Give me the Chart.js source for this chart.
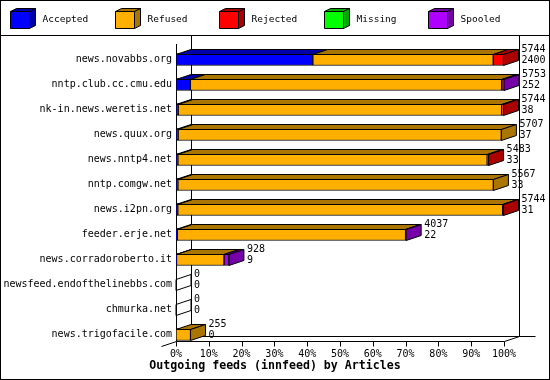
<!DOCTYPE html>
<html><head><meta charset="utf-8">
<script src="https://cdn.jsdelivr.net/npm/chart.js@4/dist/chart.umd.min.js"></script>
<style>html,body{margin:0;padding:0;background:#fff;}#wrap{width:550px;height:380px;position:relative;}</style>
</head><body><div id="wrap"><canvas id="c" width="550" height="380"></canvas></div>
<script>
const categories = ['news.novabbs.org','nntp.club.cc.cmu.edu','nk-in.news.weretis.net','news.quux.org','news.nntp4.net','nntp.comgw.net','news.i2pn.org','feeder.erje.net','news.corradoroberto.it','newsfeed.endofthelinebbs.com','chmurka.net','news.trigofacile.com'];
const offered  = [5744, 5753, 5744, 5707, 5483, 5567, 5744, 4037, 928, 0, 0, 255];
const accepted = [2400, 252, 38, 37, 33, 33, 31, 22, 9, 0, 0, 0];
const refused  = [3164, 5461, 5676, 5670, 5425, 5534, 5698, 4005, 833, 0, 0, 255];
const rejected = [180, 12, 30, 0, 25, 0, 15, 0, 0, 0, 0, 0];
const missing  = [0, 0, 0, 0, 0, 0, 0, 0, 0, 0, 0, 0];
const spooled  = [0, 28, 0, 0, 0, 0, 0, 10, 86, 0, 0, 0];
const seriesNames = ['Accepted','Refused','Rejected','Missing','Spooled'];
const seriesValues = [accepted, refused, rejected, missing, spooled];
const frontColors = ['#0000FF','#FFAF00','#FF0000','#00FF00','#AF00FF'];
const darkColors  = ['#0000AA','#AA7500','#AA0000','#00AA00','#7500AA'];
const titleText = 'Outgoing feeds (innfeed) by Articles';

const MONO = '"DejaVu Sans Mono", "Liberation Mono", monospace';
const maxTotal = Math.max(...offered);
const DX = 15, DY = 5;

const datasets = seriesValues.map((arr, k) => ({
  label: seriesNames[k],
  data: arr.map(v => v / maxTotal * 100),
  backgroundColor: frontColors[k],
  borderColor: '#000',
  borderWidth: 1,
  borderSkipped: false,
  barThickness: 12
}));

function poly(ctx, pts, fill) {
  ctx.beginPath();
  ctx.moveTo(pts[0][0], pts[0][1]);
  for (let i = 1; i < pts.length; i++) ctx.lineTo(pts[i][0], pts[i][1]);
  ctx.closePath();
  if (fill) { ctx.fillStyle = fill; ctx.fill(); }
  ctx.strokeStyle = '#000'; ctx.lineWidth = 1; ctx.stroke();
}
function line(ctx, x1, y1, x2, y2) {
  ctx.beginPath(); ctx.moveTo(x1, y1); ctx.lineTo(x2, y2);
  ctx.strokeStyle = '#000'; ctx.lineWidth = 1; ctx.stroke();
}

const threeD = {
  id: 'threeD',
  beforeDatasetsDraw(chart) {
    const ctx = chart.ctx, a = chart.chartArea, xs = chart.scales.x;
    const L = Math.round(a.left) + 0.5, R = Math.round(a.right) + 0.5;
    const F = Math.round(a.bottom) - 6 + 0.5;
    ctx.save();
    line(ctx, L + DX, 35, L + DX, F - DY);
    line(ctx, R + DX, 35, R + DX, F - DY);
    line(ctx, L + DX, F - DY, R + DX + 16, F - DY);
    line(ctx, L, F, R, F);
    line(ctx, R, F, R + DX, F - DY);
    line(ctx, L - DX, F + DY, L, F);
    line(ctx, L, a.top - 3, L, F);
    xs.ticks.forEach(t => {
      const x = Math.round(xs.getPixelForValue(t.value)) + 0.5;
      line(ctx, x, F, x, F + 5);
    });
    ctx.restore();
  },
  afterDatasetsDraw(chart) {
    const ctx = chart.ctx, xs = chart.scales.x;
    const metas = seriesValues.map((_, k) => chart.getDatasetMeta(k));
    ctx.save();
    for (let i = 0; i < categories.length; i++) {
      const el0 = metas[0].data[i];
      const h = el0.height;
      const t = Math.round(el0.y - h / 2) + 0.5;
      const b = Math.round(el0.y + h / 2) - 0.5;
      let last = -1, endX = xs.getPixelForValue(0);
      for (let k = 0; k < seriesValues.length; k++) {
        if (seriesValues[k][i] > 0) {
          const el = metas[k].data[i];
          const x0 = el.base, x1 = el.x;
          poly(ctx, [[x0, t], [x1, t], [x1 + DX, t - DY], [x0 + DX, t - DY]], darkColors[k]);
          last = k; endX = x1;
        }
      }
      poly(ctx, [[endX, t], [endX + DX, t - DY], [endX + DX, b - DY], [endX, b]], last >= 0 ? darkColors[last] : null);
      ctx.fillStyle = '#000';
      ctx.font = '10px ' + MONO;
      ctx.textAlign = 'left';
      ctx.textBaseline = 'middle';
      const c = el0.y;
      ctx.fillText(String(offered[i]), endX + DX + 3, c - 10);
      ctx.fillText(String(accepted[i]), endX + DX + 3, c + 1);
    }
    ctx.restore();
  },
  afterDraw(chart) {
    const ctx = chart.ctx;
    ctx.save();
    ctx.strokeStyle = '#000'; ctx.lineWidth = 1;
    ctx.strokeRect(0.5, 0.5, 549, 379);
    line(ctx, 0, 35.5, 550, 35.5);
    for (let k = 0; k < seriesNames.length; k++) {
      const x = Math.round(10 + k * 104.5) + 0.5, y = 11.5, w = 19, hh = 17, dx = 6, dy = 3;
      poly(ctx, [[x, y], [x + w, y], [x + w + dx, y - dy], [x + dx, y - dy]], darkColors[k]);
      poly(ctx, [[x + w, y], [x + w + dx, y - dy], [x + w + dx, y + hh - dy], [x + w, y + hh]], darkColors[k]);
      poly(ctx, [[x, y], [x + w, y], [x + w, y + hh], [x, y + hh]], frontColors[k]);
      ctx.fillStyle = '#000';
      ctx.font = '9.5px ' + MONO;
      ctx.textAlign = 'left'; ctx.textBaseline = 'middle';
      ctx.fillText(seriesNames[k], x + 32, 20);
    }
    // axis title, centred on the image like the reference
    ctx.fillStyle = '#000';
    ctx.font = 'bold 11.6px ' + MONO;
    ctx.textAlign = 'center'; ctx.textBaseline = 'middle';
    ctx.fillText(titleText, 275, 366);
    ctx.restore();
  }
};

new Chart(document.getElementById('c'), {
  type: 'bar',
  data: { labels: categories, datasets },
  plugins: [threeD],
  options: {
    responsive: false, animation: false, devicePixelRatio: 1,
    indexAxis: 'y',
    layout: { padding: { top: 47, left: 0, right: 46, bottom: 0 } },
    plugins: { legend: { display: false }, tooltip: { enabled: false } },
    scales: {
      x: {
        stacked: true, min: 0, max: 100,
        ticks: { stepSize: 10, callback: v => v + '%', font: { family: MONO, size: 10 }, color: '#000', padding: 1, maxRotation: 0, autoSkip: false },
        grid: { display: false, drawTicks: false }, border: { display: false },
        afterFit(s) { s.height = 33; }
      },
      y: {
        stacked: true,
        ticks: { font: { family: MONO, size: 10 }, color: '#000', padding: 4, autoSkip: false },
        grid: { display: false, drawTicks: false }, border: { display: false },
        afterFit(s) { s.width = 176; }
      }
    }
  }
});
</script></body></html>
